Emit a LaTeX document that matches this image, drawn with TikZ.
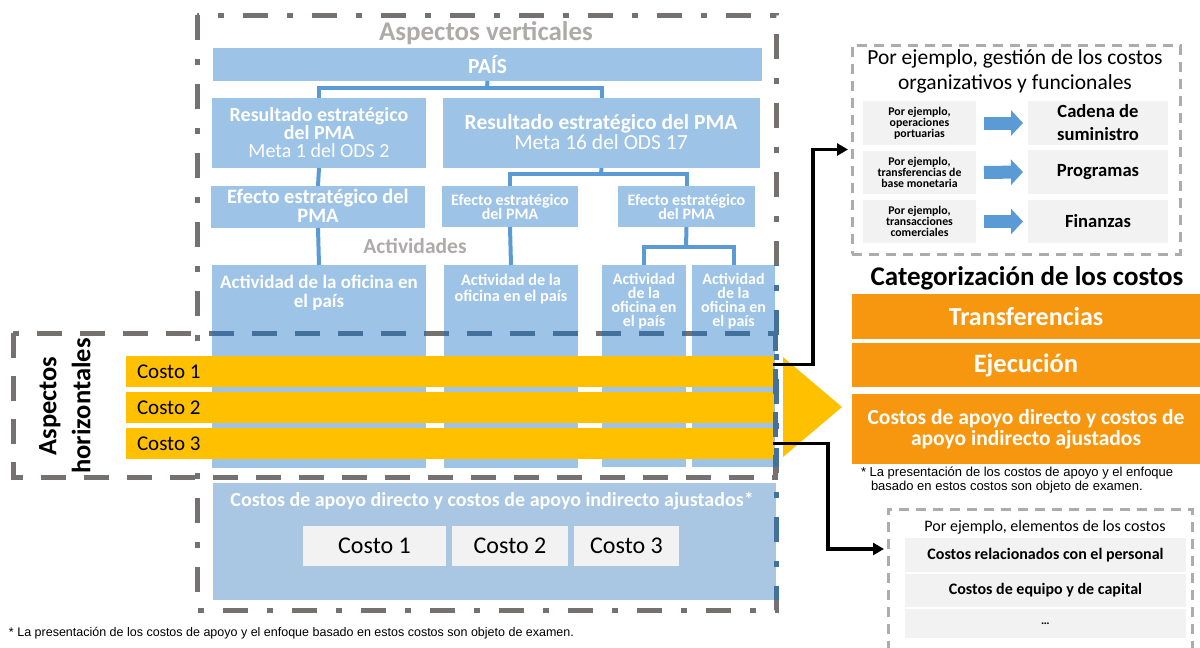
\documentclass[tikz,border=0pt]{standalone}
\usepackage{fontspec}
\setmainfont{Carlito}
\newfontfamily\arialf{Liberation Sans}
\usetikzlibrary{arrows.meta}
\definecolor{lblue}{HTML}{9DC3E6}
\definecolor{sblue}{HTML}{A9C6E2}
\definecolor{cblue}{HTML}{5B9BD5}
\definecolor{dgray}{HTML}{767171}
\definecolor{tgray}{HTML}{AEAAAA}
\definecolor{dashblue}{HTML}{44719B}
\definecolor{yel}{HTML}{FFC000}
\definecolor{orng}{HTML}{F7960F}
\definecolor{pgray}{HTML}{F2F2F2}
\definecolor{lgray}{HTML}{AFABAB}
\newcommand\fsz[2]{\fontsize{#1}{#2}\selectfont}
\newcommand\rbox[6]{\node[#6,inner sep=0pt,outer sep=0pt,minimum width={(#4)-(#2)},minimum height={(#5)-(#3)}] (#1) at ({((#2)+(#4))/2},{((#3)+(#5))/2}) {};}
\begin{document}
\begin{tikzpicture}[x=1pt,y=-1pt,
  tx/.style={inner sep=0pt,outer sep=0pt,align=center},
  wt/.style={tx,text=white},
  conn/.style={draw=cblue,line width=4pt},
  blk/.style={draw=black,line width=3.5pt,-{Triangle[length=11pt,width=12pt]}},
  ddash/.style={line width=5pt,dash pattern=on 25pt off 19pt on 6pt off 19pt},
  hdash/.style={line width=5pt,dash pattern=on 25pt off 18pt},
  exbox/.style={draw=lgray,line width=3pt,dash pattern=on 10pt off 7pt},
  barrow/.style={draw=cblue,line width=13pt,-{Triangle[length=12pt,width=25pt]},shorten <=8pt,shorten >=5pt}
]
\useasboundingbox (0,0) rectangle (1200,648);
\clip (0,0) rectangle (1200,648);
% blue boxes
\rbox{pais}{213}{48}{762}{81}{fill=lblue}
\rbox{res1}{212}{98}{426}{168}{fill=lblue}
\rbox{res2}{443}{98}{760}{168}{fill=lblue}
\rbox{eff1}{211}{186}{425}{228}{fill=lblue}
\rbox{eff2}{442}{186}{578}{227}{fill=lblue}
\rbox{eff3}{618}{186}{755}{227}{fill=lblue}
\rbox{act1}{212}{265}{426}{468}{fill=lblue}
\rbox{act2}{444}{265}{578}{468}{fill=lblue}
\rbox{act3}{602}{265}{686}{467}{fill=lblue}
\rbox{act4}{692}{265}{775}{467}{fill=lblue}
\rbox{sup}{213}{483}{776}{600}{fill=sblue}
% connectors
\coordinate (j1) at (487,88);
\draw[conn] (pais.south) -- (j1);
\draw[conn] (res1.north) |- (j1) -| (res2.north);
\draw[conn] (res1.south) -- (eff1.north);
\draw[conn] (eff1.south) -- (act1.north);
\coordinate (j2) at (601,174);
\draw[conn] (res2.south) -- (j2);
\draw[conn] (eff2.north) |- (j2) -| (eff3.north);
\draw[conn] (eff2.south) -- (act2.north);
\coordinate (j3) at (686,247);
\draw[conn] (eff3.south) -- (j3);
\draw[conn] (act3.north) |- (j3) -| (act4.north);
% dashed frames
\draw[dgray,ddash] (197,15) rectangle (776,610);
\draw[dgray,hdash] (13,333) rectangle (775,477);
\begin{scope}
\clip (212,265) rectangle (426,468) (444,265) rectangle (578,468) (602,265) rectangle (686,467) (692,265) rectangle (779,467) (213,483) rectangle (779,600);
\draw[dashblue,ddash] (197,15) rectangle (776,610);
\draw[dashblue,hdash] (13,333) rectangle (775,477);
\end{scope}
% texts in vertical part
\node[tx,text=tgray,font=\fsz{27}{30}\bfseries] (avt) at (486,33) {Aspectos verticales};
\node[wt,font=\fsz{21.5}{24}\bfseries] (paist) at (pais) {PAÍS};
\node[wt,font=\fsz{20}{18}\bfseries] (res1t) at (319,133) {Resultado estratégico\\del PMA\\{\mdseries Meta 1 del ODS 2}};
\node[wt,font=\fsz{21.5}{18}\bfseries] (res2t) at (601,132) {Resultado estratégico del PMA\\{\mdseries Meta 16 del ODS 17}};
\node[wt,font=\fsz{20.5}{19}\bfseries] (eff1t) at (318,206) {Efecto estratégico del\\PMA};
\node[wt,font=\fsz{16}{14}\bfseries] (eff2t) at (eff2) {Efecto estratégico\\del PMA};
\node[wt,font=\fsz{16}{14}\bfseries] (eff3t) at (eff3) {Efecto estratégico\\del PMA};
\node[tx,text=tgray,font=\fsz{21.5}{22}\bfseries] (actt) at (415,246) {Actividades};
\node[wt,font=\fsz{19}{19}\bfseries] (act1t) at (319,293) {Actividad de la oficina en\\el país};
\node[wt,font=\fsz{16.3}{16}\bfseries] (act2t) at (511,289) {Actividad de la\\oficina en el país};
\node[wt,font=\fsz{16}{14}\bfseries] (act3t) at (644,301) {Actividad\\de la\\oficina en\\el país};
\node[wt,font=\fsz{16}{14}\bfseries] (act4t) at (733.5,301) {Actividad\\de la\\oficina en\\el país};
% support box
\node[wt,font=\fsz{20}{22}\bfseries] (supt) at (492,501) {Costos de apoyo directo y costos de apoyo indirecto ajustados*};
\rbox{s1}{303}{526}{446}{566}{fill=pgray}
\rbox{s2}{452}{526}{568}{566}{fill=pgray}
\rbox{s3}{574}{526}{679}{566}{fill=pgray}
\node[tx,font=\fsz{24}{26}] (s1t) at (s1) {Costo 1};
\node[tx,font=\fsz{24}{26}] (s2t) at (s2) {Costo 2};
\node[tx,font=\fsz{24}{26}] (s3t) at (s3) {Costo 3};
% horizontal aspects
\node[tx,rotate=90,font=\fsz{26.5}{34}\bfseries] (aht) at (65,406) {Aspectos\\horizontales};
\rbox{bar1}{126}{356}{773}{387}{fill=yel}
\rbox{bar2}{126}{392}{773}{423}{fill=yel}
\rbox{bar3}{126}{428}{773}{459}{fill=yel}
\node[tx,anchor=west,font=\fsz{21}{24}] (b1t) at (137,371.5) {Costo 1};
\node[tx,anchor=west,font=\fsz{21}{24}] (b2t) at (137,407.5) {Costo 2};
\node[tx,anchor=west,font=\fsz{21}{24}] (b3t) at (137,443.5) {Costo 3};
\fill[yel] (783,357) -- (842,407) -- (783,457) -- cycle;
% right: organisational example box
\rbox{ex1}{852}{45}{1180}{254}{exbox}
\node[tx,font=\fsz{21.5}{25}] (ex1t) at (1015,71) {Por ejemplo, gestión de los costos\\organizativos y funcionales};
\rbox{l1}{863}{101}{976}{145}{fill=pgray}
\rbox{l2}{863}{151}{976}{194}{fill=pgray}
\rbox{l3}{863}{200}{976}{243}{fill=pgray}
\node[tx,font=\fsz{11.8}{11}\bfseries] (l1t) at (l1) {Por ejemplo,\\operaciones\\portuarias};
\node[tx,font=\fsz{11.8}{11}\bfseries] (l2t) at (l2) {Por ejemplo,\\transferencias de\\base monetaria};
\node[tx,font=\fsz{11.8}{11}\bfseries] (l3t) at (l3) {Por ejemplo,\\transacciones\\comerciales};
\rbox{r1}{1028}{101}{1168}{145}{fill=pgray}
\rbox{r2}{1028}{150}{1168}{194}{fill=pgray}
\rbox{r3}{1028}{200}{1168}{243}{fill=pgray}
\draw[barrow] (l1.east) -- (r1.west);
\draw[barrow] (l2.east) -- (r2.west);
\draw[barrow] (l3.east) -- (r3.west);
\node[tx,font=\fsz{18.6}{23}\bfseries] (r1t) at (r1) {Cadena de\\suministro};
\node[tx,font=\fsz{18.6}{23}\bfseries] (r2t) at (r2) {Programas};
\node[tx,font=\fsz{18.6}{23}\bfseries] (r3t) at (r3) {Finanzas};
% categorisation
\node[tx,font=\fsz{27}{30}\bfseries] (catt) at (1027,278) {Categorización de los costos};
\rbox{o1}{852}{294}{1200}{339}{fill=orng}
\rbox{o2}{852}{343}{1200}{387}{fill=orng}
\rbox{o3}{852}{394}{1200}{464}{fill=orng}
\node[wt,font=\fsz{26}{30}\bfseries] (o1t) at (o1) {Transferencias};
\node[wt,font=\fsz{26.5}{30}\bfseries] (o2t) at (o2) {Ejecución};
\node[wt,font=\fsz{21.5}{21}\bfseries] (o3t) at (1026,429) {Costos de apoyo directo y costos de\\apoyo indirecto ajustados};
\node[tx,align=left,anchor=north west,font=\arialf\fsz{13}{14}] (fn2) at (861,467) {* La presentación de los costos de apoyo y el enfoque\\\hspace*{10pt}basado en estos costos son objeto de examen.};
% elements example box
\rbox{ex2}{888}{509}{1192}{670}{exbox}
\node[tx,font=\fsz{16}{18}] (ex2t) at (1045,527) {Por ejemplo, elementos de los costos};
\rbox{e1}{905}{538}{1186}{572}{fill=pgray}
\rbox{e2}{905}{574}{1186}{607}{fill=pgray}
\rbox{e3}{905}{609}{1186}{638}{fill=pgray}
\node[tx,font=\fsz{16}{18}\bfseries] (e1t) at (e1) {Costos relacionados con el personal};
\node[tx,font=\fsz{16}{18}\bfseries] (e2t) at (e2) {Costos de equipo y de capital};
\node[tx,font=\fsz{12}{14}\bfseries] (e3t) at (e3) {…};
% black arrows
\coordinate (ex2in) at (884,549);
\draw[blk,shorten >=4pt] ([yshift=7pt]bar1.east) -- ++(40,0) |- (ex1.west);
\draw[blk] (bar3.east) -- ++(55,0) |- (ex2in);
% footnote
\node[tx,anchor=west,font=\arialf\fsz{12.5}{14}] (fn1) at (9,633) {* La presentación de los costos de apoyo y el enfoque basado en estos costos son objeto de examen.};
\end{tikzpicture}
\end{document}
